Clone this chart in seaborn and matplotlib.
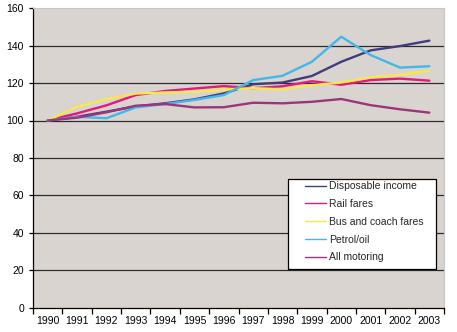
import matplotlib
matplotlib.use("Agg")
import matplotlib.pyplot as plt
import seaborn as sns
import pandas as pd
from matplotlib.ticker import FixedLocator, NullFormatter
from matplotlib.patches import Rectangle

years = [str(y) for y in range(1990, 2004)]
disposable_income = [100, 102, 104.7, 107.5, 109.2, 111.3, 114.5, 119.4, 120.3, 123.8, 131.4, 137.5, 139.8, 142.7]
rail_fares = [100, 103.8, 108.1, 113.6, 115.8, 117.1, 118.4, 117.3, 118.3, 121.0, 119.1, 121.6, 122.4, 121.3]
bus_coach_fares = [100, 107.3, 111.4, 114.4, 115.0, 115.4, 116.6, 117.3, 116.7, 118.9, 120.3, 123.1, 124.4, 126.6]
petrol_oil = [100, 102.0, 101.2, 107.0, 108.8, 111.0, 113.6, 121.6, 123.9, 131.4, 144.8, 135.0, 128.3, 129.0]
all_motoring = [100, 101.5, 104.4, 107.9, 108.8, 107.0, 107.1, 109.5, 109.2, 110.0, 111.5, 108.2, 106.0, 104.2]

series_names = ["Disposable income", "Rail fares", "Bus and coach fares", "Petrol/oil", "All motoring"]
series_values = [disposable_income, rail_fares, bus_coach_fares, petrol_oil, all_motoring]
colors = ["#423c7c", "#e2197f", "#f8e84c", "#41b8e8", "#9c3579"]
y_ticks = list(range(0, 161, 20))

rows = []
for name, vals in zip(series_names, series_values):
    for i, v in enumerate(vals):
        rows.append({"idx": i, "value": v, "series": name})
df = pd.DataFrame(rows)

sns.set_theme(style="white")
plt.rcParams['font.family'] = ['Liberation Sans', 'DejaVu Sans']

fig = plt.figure(figsize=(4.57, 3.32), dpi=100)
ax = fig.add_axes([33/457, 1-307.5/332, (444-33)/457, (307.5-8.3)/332])
ax.set_facecolor("#dad4d1")

sns.lineplot(data=df, x="idx", y="value", hue="series", hue_order=series_names,
             palette=colors, linewidth=1.7, ax=ax)

ax.set_xlim(-0.5, len(years) - 0.5)
ax.set_ylim(0, 160)
ax.set_yticks(y_ticks)
for yv in y_ticks[1:-1]:
    ax.axhline(yv, color="#2b2b2b", linewidth=0.9, zorder=0.5)

ax.xaxis.set_major_locator(FixedLocator([i - 0.5 for i in range(len(years) + 1)]))
ax.xaxis.set_major_formatter(NullFormatter())
ax.xaxis.set_minor_locator(FixedLocator(list(range(len(years)))))
ax.set_xticklabels(years, minor=True)
ax.tick_params(axis="x", which="minor", length=0, labelsize=7.5, pad=6, colors="black")
ax.tick_params(axis="x", which="major", length=4, width=0.9, direction="out", color="black", bottom=True)
ax.tick_params(axis="y", length=3, width=0.9, direction="out", labelsize=7.5, color="black", left=True, labelcolor="black")

for s in ["top", "right"]:
    ax.spines[s].set_color("#c9c5c3")
    ax.spines[s].set_linewidth(0.8)
for s in ["left", "bottom"]:
    ax.spines[s].set_color("black")
    ax.spines[s].set_linewidth(0.9)

ax.set_xlabel("")
ax.set_ylabel("")

# legend box
box = Rectangle((0.6204, 0.1297), 0.9805 - 0.6204, 0.4285 - 0.1297, transform=ax.transAxes,
                facecolor="white", edgecolor="black", linewidth=0.9, zorder=5)
ax.add_patch(box)
leg = ax.legend(loc="upper left", bbox_to_anchor=(0.662, 0.422), frameon=False,
                fontsize=7.5, handlelength=2.0, handletextpad=0.3, labelspacing=0.75,
                borderpad=0, borderaxespad=0)
leg.set_zorder(6)
for line in leg.get_lines():
    line.set_linewidth(1.0)

fig.savefig("out.png", dpi=100, facecolor="white")
